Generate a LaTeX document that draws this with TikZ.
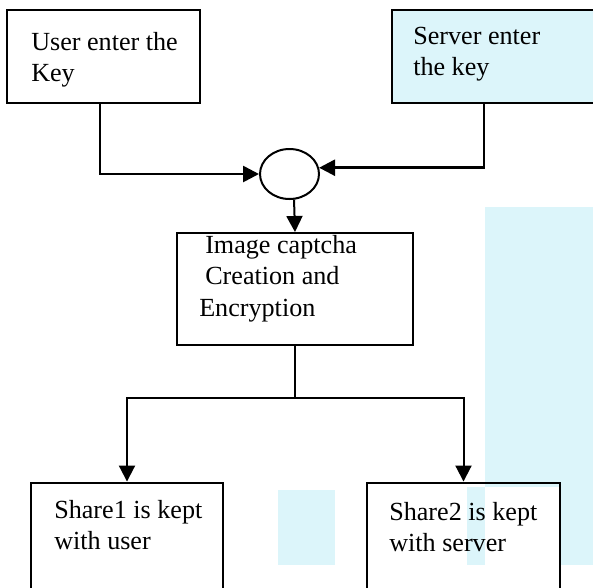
\documentclass[tikz,border=0pt]{standalone}
\usepackage{fontspec}
\setmainfont{Liberation Serif}
\usetikzlibrary{shapes.geometric,arrows.meta}
\definecolor{wmcyan}{RGB}{220,245,250}

\begin{document}
\begin{tikzpicture}[x=0.75pt,y=-0.75pt,
  box/.style={draw,line width=2.2pt,inner sep=0pt},
  midbox/.style={draw,line width=1.5pt,inner sep=0pt},
  txt/.style={anchor=north west,align=left,inner sep=0pt,font=\fontsize{19.6}{23.5}\selectfont},
  arr/.style={line width=1.5pt,-{Triangle[length=12pt,width=12pt]}},
  ln/.style={line width=1.5pt}]
  \useasboundingbox (0,0) rectangle (593,587);
  \clip (0,0) rectangle (593,587);
  \fill[wmcyan] (485,207) rectangle (593,487);
  \fill[wmcyan] (278,490) rectangle (335,565);
  \fill[wmcyan] (467,487) rectangle (485,565);
  \fill[wmcyan] (560,487) rectangle (593,565);
  \node[box,fill=wmcyan,minimum width=163.5pt,minimum height=69.75pt] (server) at (501,56.5) {};
  \node[box,minimum width=144.75pt,minimum height=69.75pt] (user) at (103.5,56.5) {};
  \node[draw,ellipse,line width=1.5pt,inner sep=0pt,minimum width=44.25pt,minimum height=37.5pt] (sum) at (289.5,174) {};
  \node[midbox,minimum width=177pt,minimum height=84pt] (mid) at (295,289) {};
  \node[box,minimum width=144pt,minimum height=95.25pt] (share1) at (127,546.5) {};
  \node[box,minimum width=144.75pt,minimum height=95.25pt] (share2) at (463.5,546.5) {};
  \node[txt] (usertxt) at (31,32) {User enter the\\Key};
  \node[txt] (servertxt) at (413,27) {Server enter\\the key};
  \node[txt] (midtxt) at (199,235) {\hspace*{4.5pt}Image captcha\\\hspace*{4.5pt}Creation and\\Encryption};
  \node[txt] (share1txt) at (54,500) {Share1 is kept\\with user};
  \node[txt] (share2txt) at (389,502) {Share2 is kept\\with server};
  \coordinate (split) at (295,398);
  \draw[arr,line width=2pt] ([xshift=-2.6pt]user.south) |- (sum.west);
  \draw[arr,line width=2pt] ([xshift=-12.75pt]server.south) |- (sum.12);
  \draw[arr] (sum.-80) -- (mid.north);
  \draw[ln] (mid.south) -- (split);
  \draw[arr] (split) -| (share1.north);
  \draw[arr] (split) -| (share2.north);
\end{tikzpicture}
\end{document}
